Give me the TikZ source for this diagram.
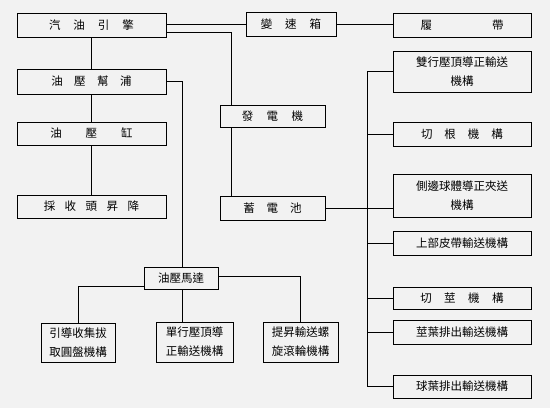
\documentclass[tikz,border=0pt]{standalone}
\usepackage{fontspec}
\newfontfamily\cjk{Noto Sans CJK TC}
\newcommand\gp[1]{\hspace{#1pt}}
\begin{document}
\begin{tikzpicture}[x=1pt,y=-1pt,
  box/.style={draw,line width=0.8pt,inner sep=0pt,align=center,
    font=\cjk\fontsize{11.5}{19}\selectfont},
  link/.style={line width=0.7pt}]
\fill[black!5] (0,0) rectangle (550,408);
\useasboundingbox (0,0) rectangle (550,408);
% left column
\node[box,minimum width=149pt,minimum height=24pt] (engine) at (91.5,25) {汽\gp{13}油\gp{13}引\gp{13}擎};
\node[box,minimum width=149pt,minimum height=25pt] (pump) at (91.5,81.5) {油\gp{11.5}壓\gp{11.5}幫\gp{11.5}浦};
\node[box,minimum width=149pt,minimum height=23pt] (cyl) at (91.5,133.5) {油\gp{24}壓\gp{24}缸};
\node[box,minimum width=149pt,minimum height=23pt] (lift) at (91.5,206.5) {採\gp{9.5}收\gp{9.5}頭\gp{9.5}昇\gp{9.5}降};
% middle
\node[box,minimum width=90pt,minimum height=24pt] (trans) at (291,24) {變\gp{13}速\gp{13}箱};
\node[box,minimum width=105pt,minimum height=22pt] (gen) at (272.5,116) {發\gp{13.5}電\gp{13.5}機};
\node[box,minimum width=105pt,minimum height=24pt] (bat) at (272.5,208) {蓄\gp{12}電\gp{12}池};
\node[box,minimum width=74pt,minimum height=22pt] (motor) at (181,278) {油壓馬達};
\node[box,minimum width=74pt,minimum height=39pt] (guide) at (78,342.5) {引導收集拔\\取圓盤機構};
\node[box,minimum width=77pt,minimum height=40pt] (single) at (194.5,342) {單行壓頂導\\正輸送機構};
\node[box,minimum width=75pt,minimum height=40pt] (screw) at (300.5,342) {提昇輸送螺\\旋滾輪機構};
% right column
\node[box,minimum width=138pt,minimum height=24pt] (track) at (462,25) {履\gp{60}帶};
\node[box,minimum width=138pt,minimum height=41pt] (dual) at (462,71.5) {雙行壓頂導正輸送\\機構};
\node[box,minimum width=138pt,minimum height=24pt] (root) at (462,134) {切\gp{12}根\gp{12}機\gp{12}構};
\node[box,minimum width=138pt,minimum height=43pt] (side) at (462,195.5) {側邊球體導正夾送\\機構};
\node[box,minimum width=138pt,minimum height=24pt] (belt) at (462,243) {上部皮帶輸送機構};
\node[box,minimum width=138pt,minimum height=22pt] (stem) at (462,298) {切\gp{12.5}莖\gp{12.5}機\gp{12.5}構};
\node[box,minimum width=138pt,minimum height=24pt] (leafout) at (462,332) {莖葉排出輸送機構};
\node[box,minimum width=138pt,minimum height=23pt] (ballout) at (462,386.5) {球葉排出輸送機構};
\coordinate (bus) at (367,0);
% connectors
\draw[link] (engine.south) -- (pump.north);
\draw[link] (pump.south) -- (cyl.north);
\draw[link] (cyl.south) -- (lift.north);
\draw[link] (engine.east |- trans.west) -- (trans.west);
\draw[link] ([yshift=-7pt]engine.east) -| ([xshift=12pt]gen.north west);
\draw[link] ([xshift=12pt]gen.south west) -- ([xshift=12pt]bat.north west);
\draw[link] (trans.east) -- (trans.east -| track.west);
\draw[link] (pump.east) -| ([xshift=1.5pt]motor.north);
\draw[link] ([yshift=-8pt]motor.west) -| (guide.north);
\draw[link] ([xshift=1.5pt]motor.south) -- ([xshift=1.5pt]motor.south |- single.north);
\draw[link] ([yshift=2pt]motor.east) -| (screw.north);
\draw[link] (dual.west) -- (bus |- dual.west) -- (bus |- ballout.west) -- (ballout.west);
\draw[link] (bus |- root.west) -- (root.west);
\draw[link] (bat.east) -- (bat.east -| side.west);
\draw[link] (bus |- belt.west) -- (belt.west);
\draw[link] (bus |- stem.west) -- (stem.west);
\draw[link] (bus |- leafout.west) -- (leafout.west);
\end{tikzpicture}
\end{document}
